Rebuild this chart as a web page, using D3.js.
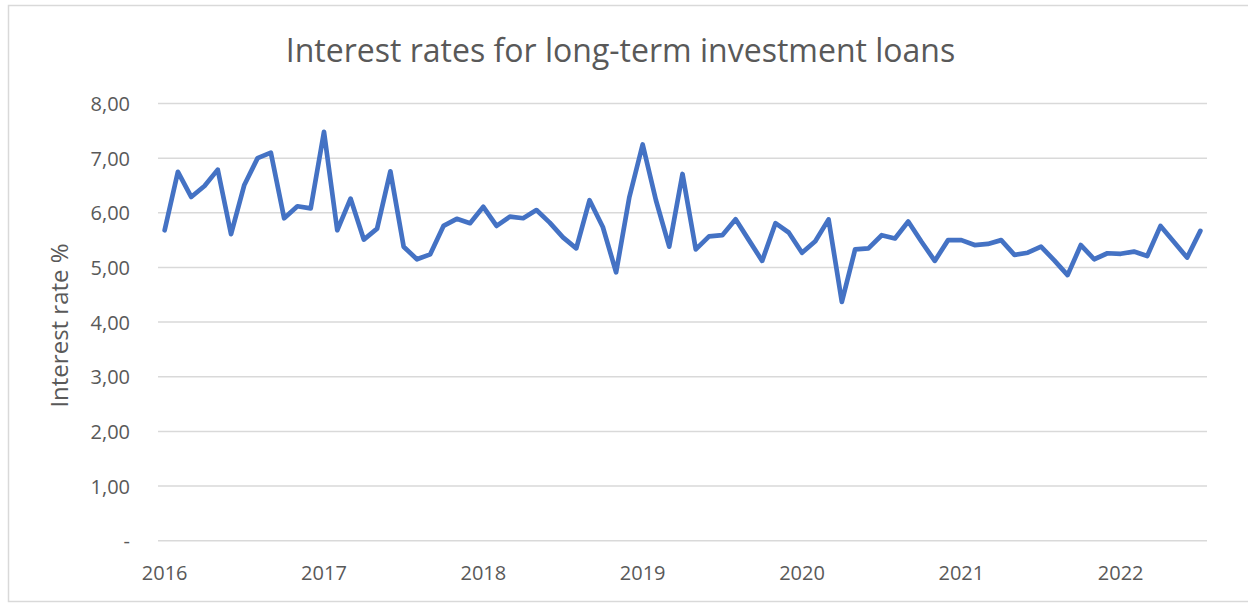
<!DOCTYPE html>
<html>
<head>
<meta charset="utf-8">
<script src="https://cdn.jsdelivr.net/npm/d3@7"></script>
<style>
  html, body { margin: 0; padding: 0; background: #ffffff; }
  svg { display: block; }
  text { font-family: "Open Sans", "Noto Sans", sans-serif; fill: #595959; }
</style>
</head>
<body>
<svg id="chart" width="1248" height="603"></svg>
<script>
// Monthly interest rates (%) on long-term investment loans, Jan 2016 – Jul 2022
const years = [2016, 2017, 2018, 2019, 2020, 2021, 2022];
const rates = [
  5.68, 6.75, 6.29, 6.49, 6.79, 5.61, 6.51, 7.00, 7.10, 5.90, 6.12, 6.08,
  7.48, 5.68, 6.26, 5.51, 5.71, 6.76, 5.38, 5.15, 5.24, 5.76, 5.89, 5.81,
  6.11, 5.76, 5.93, 5.90, 6.05, 5.82, 5.55, 5.35, 6.23, 5.74, 4.91, 6.29,
  7.25, 6.23, 5.38, 6.71, 5.33, 5.57, 5.59, 5.88, 5.50, 5.12, 5.81, 5.64,
  5.27, 5.48, 5.88, 4.37, 5.33, 5.35, 5.59, 5.53, 5.84, 5.47, 5.12, 5.50,
  5.50, 5.41, 5.43, 5.50, 5.23, 5.27, 5.38, 5.13, 4.86, 5.41, 5.15, 5.26,
  5.25, 5.29, 5.21, 5.76, 5.47, 5.18, 5.67
];
const yTicks = [0, 1, 2, 3, 4, 5, 6, 7, 8];

// month keys like "2016-01", one per value
const months = rates.map((_, i) => `${years[0] + Math.floor(i / 12)}-${String(i % 12 + 1).padStart(2, "0")}`);
const data = months.map((m, i) => ({ month: m, value: rates[i] }));

const svg = d3.select("#chart");

// outer chart frame
svg.append("rect")
  .attr("x", 8.5).attr("y", 5.5)
  .attr("width", 1245).attr("height", 596)
  .attr("fill", "#fff").attr("stroke", "#d9d9d9").attr("stroke-width", 1.5);

const plot = { left: 158, right: 1207, top: 103.5, bottom: 540.7 };

const x = d3.scaleBand().domain(months).range([plot.left, plot.right]);
const y = d3.scaleLinear().domain([0, 8]).range([plot.bottom, plot.top]);
const fmt = v => v === 0 ? "-" : d3.format(".2f")(v).replace(".", ",");

// horizontal gridlines
svg.append("g")
  .selectAll("line")
  .data(yTicks)
  .join("line")
  .attr("x1", plot.left).attr("x2", plot.right)
  .attr("y1", d => y(d)).attr("y2", d => y(d))
  .attr("stroke", "#d9d9d9").attr("stroke-width", 1.5);

// y axis labels
const yAxis = svg.append("g")
  .attr("transform", `translate(${plot.left - 28},0)`)
  .call(d3.axisLeft(y).tickValues(yTicks).tickFormat(fmt).tickSize(0).tickPadding(0));
yAxis.select(".domain").remove();
yAxis.selectAll("text")
  .attr("font-size", 20)
  .attr("fill", "#595959")
  .attr("dy", "0.35em")
  .style("font-family", '"Open Sans", sans-serif');

// x axis labels: one per January
const janKeys = years.map(yr => `${yr}-01`);
const xAxis = svg.append("g")
  .attr("transform", `translate(0,${plot.bottom})`)
  .call(d3.axisBottom(x).tickValues(janKeys).tickFormat(k => k.slice(0, 4)).tickSize(0).tickPadding(0));
xAxis.select(".domain").remove();
xAxis.selectAll("text")
  .attr("font-size", 20)
  .attr("fill", "#595959")
  .attr("y", 39)
  .attr("dy", 0)
  .style("font-family", '"Open Sans", sans-serif');

// the rate line
const line = d3.line()
  .x(d => x(d.month) + x.bandwidth() / 2)
  .y(d => y(d.value));

svg.append("path")
  .datum(data)
  .attr("d", line)
  .attr("fill", "none")
  .attr("stroke", "#4472c4")
  .attr("stroke-width", 4.7)
  .attr("stroke-linejoin", "round")
  .attr("stroke-linecap", "round");

// chart title
svg.append("text")
  .attr("x", 620.5).attr("y", 61.5)
  .attr("text-anchor", "middle")
  .attr("font-size", 32)
  .text("Interest rates for long-term investment loans");

// y axis title
svg.append("text")
  .attr("transform", "translate(68,325.5) rotate(-90)")
  .attr("text-anchor", "middle")
  .attr("font-size", 24)
  .text("Interest rate %");
</script>
</body>
</html>
